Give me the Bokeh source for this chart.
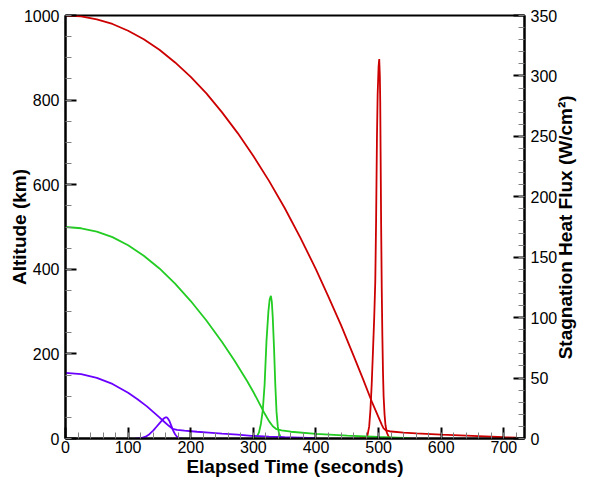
import math
from bokeh.plotting import figure
from bokeh.models import Range1d, LinearAxis, SingleIntervalTicker
from bokeh.embed import file_html
from bokeh.resources import INLINE

# Altitude (km) vs elapsed time (s)
t_red = [0, 25, 50, 75, 100, 125, 150, 175, 200, 225, 250, 275, 300, 325, 350, 375, 400, 420, 440, 460, 475, 490, 500, 505, 508, 512, 520, 540, 560, 600, 650, 700, 720]
h_red = [1000, 998, 991, 980, 964, 944, 919, 889, 855, 816, 771, 722, 668, 609, 545, 475, 400, 335, 268, 196, 141, 84, 50, 33, 24, 19, 16.5, 14, 12, 9, 6, 3, 2]

t_green = [0, 25, 50, 75, 100, 125, 150, 175, 200, 225, 250, 270, 290, 300, 310, 318, 325, 331, 337, 345, 360, 400, 450, 500, 550]
h_green = [500, 497, 489, 476, 457, 432, 402, 366, 325, 279, 228, 184, 136, 110, 82, 59, 41, 29, 22, 19, 16, 11, 7, 3.5, 1]

t_purple = [0, 25, 50, 75, 100, 115, 130, 140, 150, 158, 165, 171, 178, 190, 210, 229, 250, 275, 297, 325, 350, 400]
h_purple = [155, 152, 143.5, 129, 108, 93, 76, 63, 50, 39, 30, 23, 20.5, 18.5, 16, 14, 11.5, 9, 6.4, 4.5, 3, 1]

# Stagnation heat flux (W/cm^2) vs elapsed time (s)
tq_red = [470, 478, 482, 485, 487, 489, 491, 493, 494.7, 496, 497.4, 498.5, 500, 501, 502, 502.6, 503.3, 504, 505, 506, 507, 508, 509.5, 511, 513, 516, 520]
q_red = [0, 0.5, 2, 10, 24, 45, 72, 100, 130, 180, 250, 285, 308, 314, 300, 279, 230, 180, 125, 85, 55, 35, 20, 11, 5, 1.5, 0]

tq_green = [298, 303, 306, 309, 312, 315, 318, 321, 324, 326, 328, 329.5, 331, 333, 335, 337, 339, 341, 344, 348]
q_green = [0, 0.5, 2, 5, 12, 23, 45, 81, 105, 115, 118, 113, 100, 75, 45, 22, 10, 4, 1, 0]

tq_purple = [112, 121, 128, 134, 140, 145, 150, 155, 158, 160, 162, 164, 166, 169, 172, 175, 178, 181, 186]
q_purple = [0, 0.3, 1.5, 3.6, 6.5, 9.5, 12.5, 15.5, 17, 17.5, 17.4, 16.2, 14.5, 10.5, 6.5, 3.5, 1.5, 0.3, 0]

X_TITLE = "Elapsed Time (seconds)"
Y_TITLE = "Altitude (km)"
Y2_TITLE = "Stagnation Heat Flux (W/cm²)"

RED = "#CC0000"
GREEN = "#22CC22"
PURPLE = "#6A00FF"

FONT = "Liberation Sans"
X_MAX = 733

p = figure(width=589, height=485, output_backend="svg", toolbar_location=None,
           x_range=Range1d(0, X_MAX), y_range=Range1d(0, 1000),
           min_border_left=65, min_border_right=60, min_border_top=15, min_border_bottom=47)
p.extra_y_ranges = {"heat": Range1d(0, 350)}

p.xgrid.visible = False
p.ygrid.visible = False
p.outline_line_color = "black"
p.outline_line_width = 2
p.outline_line_alpha = 1.0

lw = 1.8
p.line(tq_purple, q_purple, y_range_name="heat", color=PURPLE, line_width=lw)
p.line(tq_green, q_green, y_range_name="heat", color=GREEN, line_width=lw)
p.line(tq_red, q_red, y_range_name="heat", color=RED, line_width=lw)
p.line(t_purple, h_purple, color=PURPLE, line_width=lw)
p.line(t_green, h_green, color=GREEN, line_width=lw)
p.line(t_red, h_red, color=RED, line_width=lw)

heat_axis = LinearAxis(y_range_name="heat")
p.add_layout(heat_axis, "right")


def style(ax, ticker, standoff, title, title_standoff):
    ax.ticker = ticker
    ax.axis_line_color = "black"
    ax.axis_line_width = 2
    ax.major_tick_line_color = "black"
    ax.major_tick_line_width = 2
    ax.major_tick_in = 11
    ax.major_tick_out = 0
    ax.minor_tick_line_color = "#808080"
    ax.minor_tick_line_width = 1
    ax.minor_tick_in = 6
    ax.minor_tick_out = 0
    ax.major_label_text_font = FONT
    ax.major_label_text_font_size = "16px"
    ax.major_label_text_color = "black"
    ax.major_label_standoff = standoff
    ax.axis_label = title
    ax.axis_label_standoff = title_standoff
    ax.axis_label_text_font = FONT
    ax.axis_label_text_font_style = "bold"
    ax.axis_label_text_font_size = "19px"
    ax.axis_label_text_color = "black"


style(p.xaxis[0], SingleIntervalTicker(interval=100, num_minor_ticks=5), 2, X_TITLE, 0)
style(p.yaxis[0], SingleIntervalTicker(interval=200, num_minor_ticks=4), 6, Y_TITLE, -9)
style(heat_axis, SingleIntervalTicker(interval=50, num_minor_ticks=5), 6, Y2_TITLE, 5)

# right title reads bottom-to-top, starting from the lower part of the axis
try:
    heat_axis.axis_label_align = "start"
    heat_axis.axis_label_orientation = math.pi / 2
    heat_axis.axis_label = "\u00a0" * 15 + Y2_TITLE
except Exception:
    heat_axis.axis_label = Y2_TITLE

open("out.html", "w").write(file_html(p, INLINE))
